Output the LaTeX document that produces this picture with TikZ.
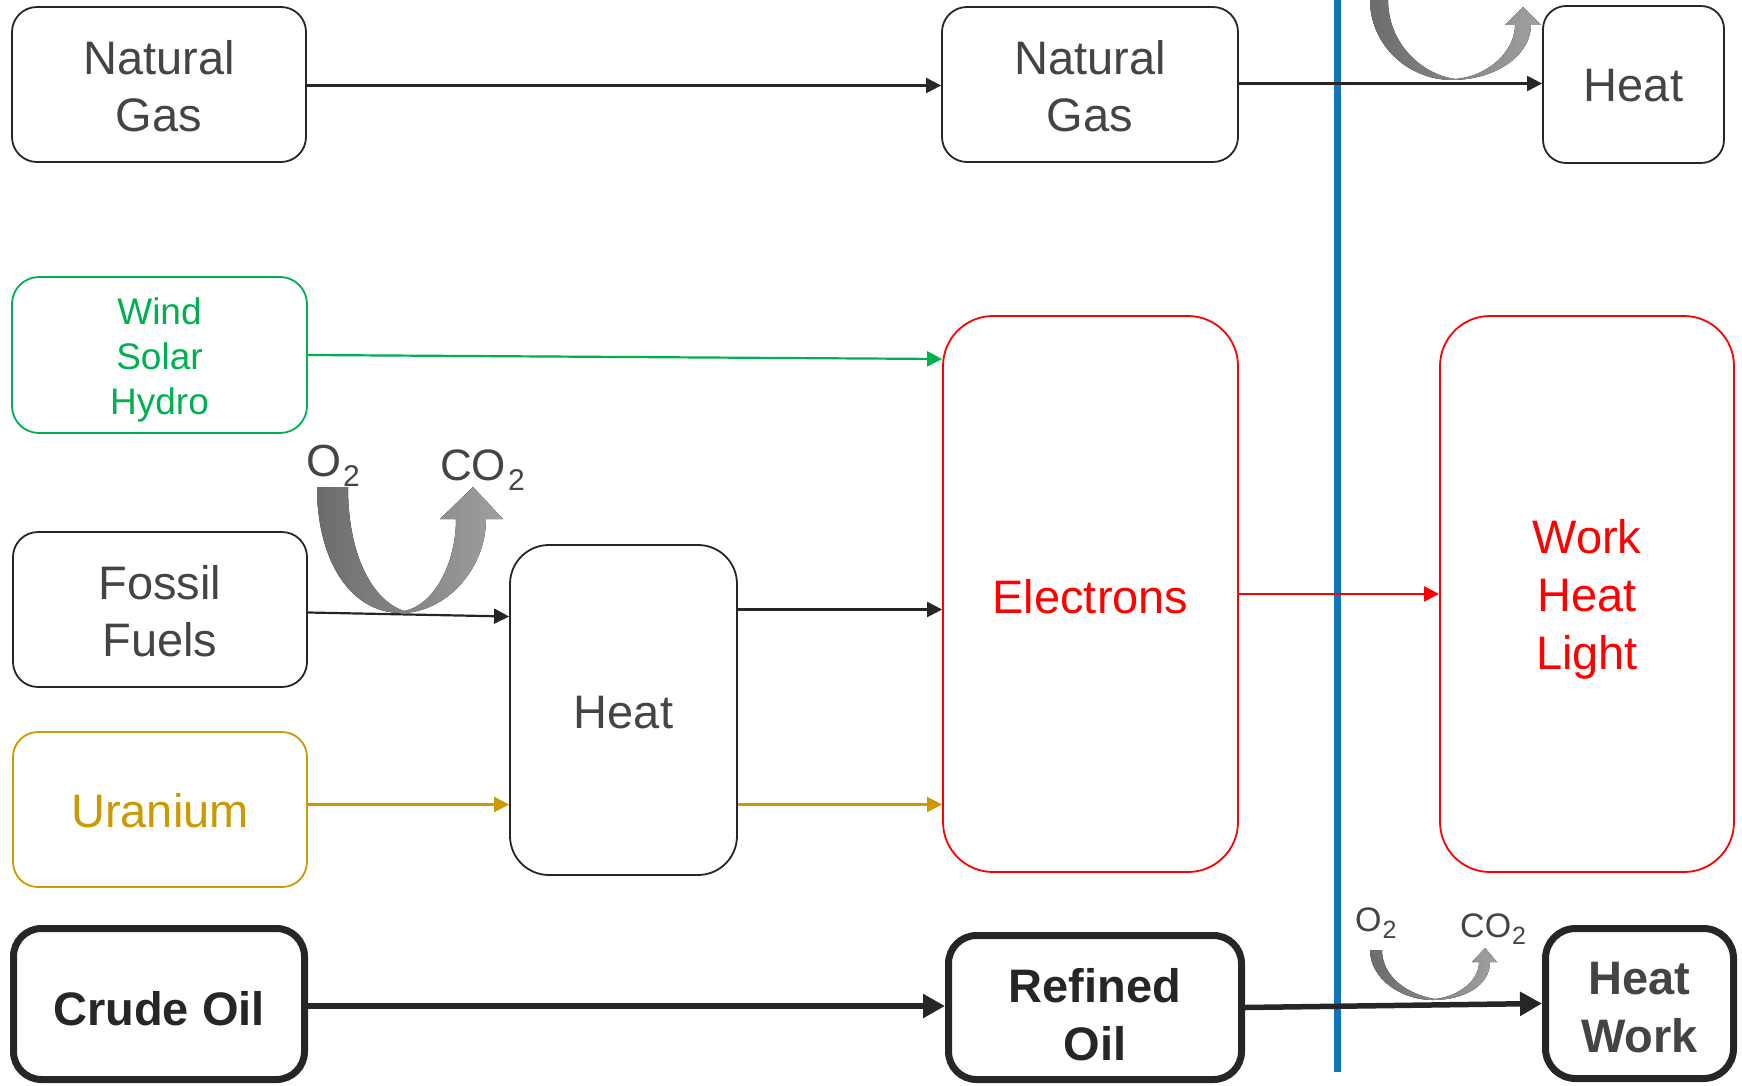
\documentclass[tikz,border=0pt]{standalone}
\usepackage{fontspec}
\setmainfont{Liberation Sans}
\usetikzlibrary{arrows.meta,calc}
\definecolor{txtgray}{RGB}{68,68,68}
\definecolor{txtdark}{RGB}{38,38,38}
\definecolor{boxline}{RGB}{38,38,38}
\definecolor{grn}{RGB}{0,176,80}
\definecolor{gold}{RGB}{204,153,0}
\definecolor{rd}{RGB}{255,0,0}
\definecolor{blueline}{RGB}{16,117,185}
\definecolor{armdark}{RGB}{108,108,108}
\definecolor{armlight}{RGB}{160,160,160}
\newcommand\fbig{\fontsize{47}{57}\selectfont}
\newcommand\fbigw{\fontsize{47}{58}\selectfont}
\newcommand\fmid{\fontsize{37}{45}\selectfont}
\begin{document}
\begin{tikzpicture}[x=1pt,y=-1pt,
  box/.style={draw=boxline, line width=1.8pt, rounded corners=25pt, inner sep=0pt},
  thickbox/.style={draw=boxline, line width=7pt, rounded corners=28pt, inner sep=0pt},
  lbl/.style={inner sep=0pt, align=center, text=txtgray, font=\fbig},
  blbl/.style={inner sep=0pt, align=center, font=\fbigw\bfseries},
  arr/.style={line width=2.2pt, draw=boxline, -{Triangle[length=15pt,width=15pt]}},
  thickarr/.style={line width=5.5pt, draw=boxline, -{Triangle[length=22pt,width=23pt]}},
  chem/.style={text=txtgray, inner sep=0pt, anchor=base west}
]
\useasboundingbox (0,0) rectangle (1742,1086);

% boxes
\node[box, minimum width=294pt, minimum height=155pt] (ng1) at (159,84.5) {};
\node[box, minimum width=296pt, minimum height=155pt] (ng2) at (1090,84.5) {};
\node[box, minimum width=181pt, minimum height=157pt, rounded corners=23pt] (heatT) at (1633.5,84.5) {};
\node[box, draw=grn, minimum width=295pt, minimum height=156pt, rounded corners=27pt] (wsh) at (159.5,355) {};
\node[box, draw=rd, minimum width=295pt, minimum height=556pt, rounded corners=50pt] (elec) at (1090.5,594) {};
\node[box, draw=rd, minimum width=294pt, minimum height=556pt, rounded corners=50pt] (whl) at (1587,594) {};
\node[box, minimum width=294pt, minimum height=155pt] (ff) at (160,609.5) {};
\node[box, minimum width=227pt, minimum height=330pt, rounded corners=39pt] (heatM) at (623.5,710) {};
\node[box, draw=gold, minimum width=294pt, minimum height=155pt] (ur) at (160,809.5) {};
\node[thickbox, minimum width=291pt, minimum height=151pt] (crude) at (159,1004) {};
\node[thickbox, minimum width=293pt, minimum height=144pt] (refined) at (1095,1007.5) {};
\node[thickbox, minimum width=188pt, minimum height=150pt, rounded corners=30pt] (hw) at (1639.5,1003.5) {};

% texts
\node[lbl] (ng1t) at ([yshift=-2pt]ng1.center) {Natural\\Gas};
\node[lbl] (ng2t) at ([yshift=-2pt]ng2.center) {Natural\\Gas};
\node[lbl] (heatTt) at ([yshift=-1.5pt]heatT.center) {Heat};
\node[lbl, text=grn, font=\fmid] (wsht) at ([yshift=-5pt]wsh.center) {Wind\\Solar\\Hydro};
\node[lbl, text=rd] (elect) at ([yshift=-2.5pt]elec.center) {Electrons};
\node[lbl, text=rd, font=\fbigw] (whlt) at ([yshift=-5.5pt]whl.center) {Work\\Heat\\Light};
\node[lbl] (fft) at ([yshift=-2pt]ff.center) {Fossil\\Fuels};
\node[lbl] (heatMt) at ([yshift=-2.5pt]heatM.center) {Heat};
\node[lbl, text=gold] (urt) at ([yshift=-1.5pt]ur.center) {Uranium};
\node[blbl, text=txtdark] (crudet) at ([yshift=-4.5pt]crude.center) {Crude Oil};
\node[blbl, text=txtdark] (refinedt) at ([yshift=-7pt]refined.center) {Refined\\Oil};
\node[blbl, text=txtgray] (hwt) at ([yshift=-4.5pt]hw.center) {Heat\\Work};

% helper coordinates
\coordinate (urOut) at ([yshift=5pt]ur.east);
\coordinate (ffOut) at ([yshift=-3pt]ff.east);

% blue divider
\draw[blueline, line width=7pt] (1337,0) -- (1337,1072);

% connectors
\draw[arr] ([yshift=-1pt]ng1.east) -- ([yshift=-1pt]ng2.west);
\draw[arr] ([yshift=1pt]ng2.east) -- ([yshift=1pt]heatT.west);
\draw[arr, draw=grn, fill=grn] (wsh.east) -- ([yshift=-4pt]elec.west |- wsh.east);
\draw[arr] (ffOut) -- ([yshift=-4pt]heatM.west |- ffOut);
\draw[arr] (heatM.east |- ff.east) -- (elec.west |- ff.east);
\draw[arr, draw=gold, fill=gold] (urOut) -- (heatM.west |- urOut);
\draw[arr, draw=gold, fill=gold] (heatM.east |- urOut) -- (elec.west |- urOut);
\draw[arr, draw=rd, fill=rd] (elec.east) -- (whl.west);
\draw[thickarr] ([yshift=-2pt]crude.east) -- ([yshift=-2pt]refined.west |- crude.east);
\draw[thickarr] (refined.east) -- (hw.west);

% curved O2 -> CO2 arrows
\fill[left color=armdark, right color=armlight]
  (317,487) .. controls (317,560) and (350,613) .. (401,613)
  .. controls (445,613) and (486,570) .. (486,519)
  -- (503,519) -- (473,487) -- (440,519) -- (456,519)
  .. controls (456,562) and (435,605) .. (404,611)
  .. controls (372,600) and (348,555) .. (348,487) -- cycle;
\fill[left color=armdark, right color=armlight]
  (1370,0) .. controls (1370,45) and (1408,80) .. (1452,80)
  .. controls (1496,80) and (1531,55) .. (1531,25)
  -- (1541,25) -- (1523,7) -- (1505,25) -- (1515,25)
  .. controls (1515,50) and (1490,76) .. (1455,79)
  .. controls (1420,74) and (1388,42) .. (1388,0) -- cycle;
\fill[left color=armdark, right color=armlight]
  (1370,950) .. controls (1370,978) and (1400,1000) .. (1433,1000)
  .. controls (1465,1000) and (1490,985) .. (1490,962)
  -- (1497,962) -- (1485,948) -- (1472,962) -- (1479,962)
  .. controls (1479,980) and (1460,996) .. (1435,999)
  .. controls (1405,994) and (1382,975) .. (1382,950) -- cycle;

% chemical labels
\node[chem, font=\fontsize{45}{50}\selectfont] (o2a) at (306,476) {O\kern2pt\raisebox{-10pt}{\fontsize{30}{32}\selectfont 2}};
\node[chem, font=\fontsize{44}{50}\selectfont] (co2a) at (440,480) {CO\kern2pt\raisebox{-10pt}{\fontsize{30}{32}\selectfont 2}};
\node[chem, font=\fontsize{34}{38}\selectfont] (o2b) at (1355,931) {O\kern1pt\raisebox{-7pt}{\fontsize{25}{26}\selectfont 2}};
\node[chem, font=\fontsize{34}{38}\selectfont] (co2b) at (1460,937) {CO\kern1pt\raisebox{-7pt}{\fontsize{25}{26}\selectfont 2}};
\end{tikzpicture}
\end{document}
